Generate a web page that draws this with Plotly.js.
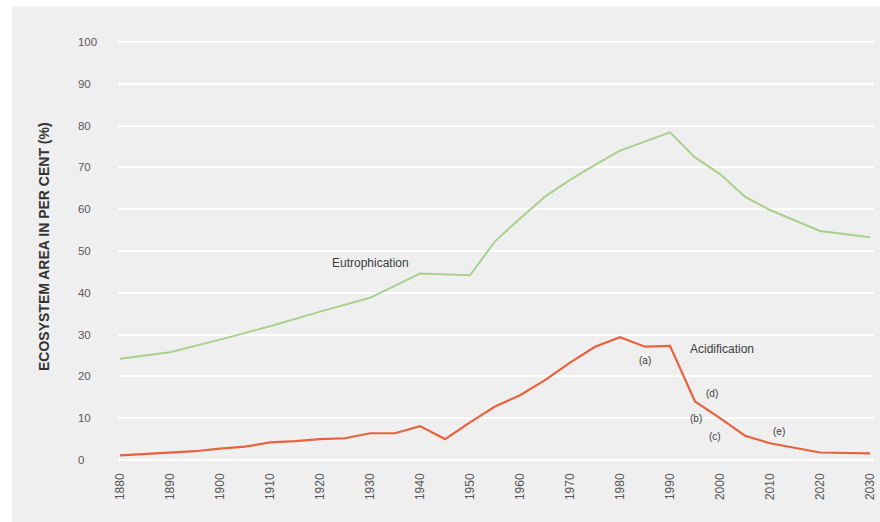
<!DOCTYPE html>
<html>
<head>
<meta charset="utf-8">
<script src="https://cdn.plot.ly/plotly-3.0.1.min.js"></script>
<style>
  html, body { margin: 0; padding: 0; background: #ffffff; }
  #chart { position: absolute; left: 12px; top: 6px; width: 868px; height: 516px; }
</style>
</head>
<body>
<div id="chart"></div>
<script>
// Eutrophication (% of ecosystem area)
const eutroYears = [1880, 1890, 1900, 1910, 1920, 1930, 1940, 1950, 1955, 1960, 1965, 1970, 1975, 1980, 1990, 1995, 2000, 2005, 2010, 2020, 2030];
const eutroValues = [24.2, 25.8, 28.8, 32.0, 35.5, 38.8, 44.6, 44.2, 52.3, 57.8, 63.0, 67.0, 70.6, 74.0, 78.4, 72.4, 68.4, 63.0, 59.8, 54.8, 53.3];

// Acidification (% of ecosystem area)
const acidYears = [1880, 1890, 1895, 1900, 1905, 1910, 1915, 1920, 1925, 1930, 1935, 1940, 1945, 1950, 1955, 1960, 1965, 1970, 1975, 1980, 1985, 1990, 1995, 2000, 2005, 2010, 2020, 2030];
const acidValues = [1.1, 1.7, 2.1, 2.7, 3.2, 4.2, 4.5, 5.0, 5.2, 6.4, 6.4, 8.1, 5.0, 9.0, 12.8, 15.5, 19.1, 23.3, 27.1, 29.4, 27.1, 27.3, 14.0, 10.0, 5.8, 4.0, 1.8, 1.6];

// Axis ticks
const xTicks = [1880, 1890, 1900, 1910, 1920, 1930, 1940, 1950, 1960, 1970, 1980, 1990, 2000, 2010, 2020, 2030];
const yTicks = [0, 10, 20, 30, 40, 50, 60, 70, 80, 90, 100];

// Text labels on the chart
const seriesLabels = [
  {text: 'Eutrophication', x: 1922, y: 47.1},
  {text: 'Acidification', x: 1993.6, y: 26.6}
];
const noteLabels = [
  {text: '(a)', x: 1985, y: 23.9},
  {text: '(d)', x: 1998.4, y: 16.0},
  {text: '(b)', x: 1995.2, y: 10.0},
  {text: '(c)', x: 1999, y: 5.7},
  {text: '(e)', x: 2011.8, y: 6.9}
];

const FONT = 'Liberation Sans, Arial, sans-serif';
const BG = '#efefef';

const traces = [
  {
    x: eutroYears, y: eutroValues, type: 'scatter', mode: 'lines',
    line: {color: '#a9d18e', width: 2}, hoverinfo: 'x+y', name: 'Eutrophication'
  },
  {
    x: acidYears, y: acidValues, type: 'scatter', mode: 'lines',
    line: {color: '#e8623d', width: 2.2}, hoverinfo: 'x+y', name: 'Acidification'
  },
  {
    x: [xTicks[0]], y: [yTicks[0]], yaxis: 'y2', type: 'scatter', mode: 'markers',
    marker: {opacity: 0}, hoverinfo: 'skip', showlegend: false
  }
];

const yRange = [-0.957, 102.87];

const annotations = [];
seriesLabels.forEach(l => annotations.push({
  x: l.x, y: l.y, xref: 'x', yref: 'y', text: l.text, showarrow: false,
  xanchor: 'left', yanchor: 'middle', font: {family: FONT, size: 12, color: '#3c3c3c'}
}));
noteLabels.forEach(l => annotations.push({
  x: l.x, y: l.y, xref: 'x', yref: 'y', text: l.text, showarrow: false,
  xanchor: 'center', yanchor: 'middle', font: {family: FONT, size: 10, color: '#3c3c3c'}
}));
annotations.push({
  xref: 'paper', yref: 'paper', x: -0.0349, y: 0.5, xanchor: 'center', yanchor: 'middle',
  text: '<b>ECOSYSTEM AREA IN PER CENT (%)</b>', textangle: -90, showarrow: false,
  font: {family: FONT, size: 14, color: '#333333'}
});

const layout = {
  width: 868, height: 516,
  margin: {l: 60, r: 6, t: 24, b: 58, pad: 0},
  paper_bgcolor: BG, plot_bgcolor: BG,
  showlegend: false,
  font: {family: FONT, color: '#595959'},
  xaxis: {
    domain: [0.0574, 1],
    range: [1879.6, 2030.8],
    tickmode: 'array', tickvals: xTicks, ticktext: xTicks.map(String),
    tickangle: -90, ticks: '', showgrid: false, zeroline: false, showline: false,
    ticklabelstandoff: 6,
    tickfont: {family: FONT, size: 12, color: '#555555'}
  },
  yaxis: {
    range: yRange, tickmode: 'array', tickvals: yTicks,
    showticklabels: false, ticks: '', showgrid: true, gridcolor: '#ffffff', gridwidth: 2,
    zeroline: false, showline: false
  },
  yaxis2: {
    overlaying: 'y', anchor: 'free', position: 0.0062, side: 'right',
    range: yRange, tickmode: 'array', tickvals: yTicks, ticktext: yTicks.map(String),
    ticks: '', showgrid: false, zeroline: false, showline: false,
    tickfont: {family: FONT, size: 11.5, color: '#595959'}
  },
  annotations: annotations
};

Plotly.newPlot('chart', traces, layout, {displayModeBar: false, staticPlot: true});
</script>
</body>
</html>
